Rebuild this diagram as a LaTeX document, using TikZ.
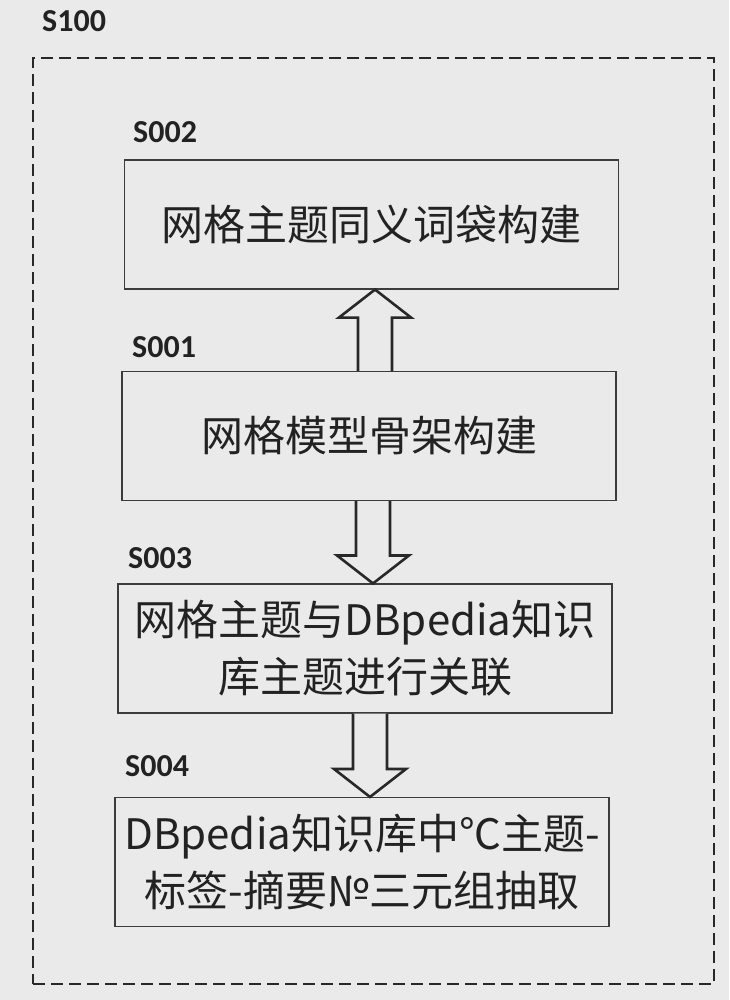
\documentclass[tikz,border=0pt]{standalone}
\usepackage{fontspec}
\newfontfamily\cjk{Noto Sans CJK SC}
\newfontfamily\lab{Carlito}
\usetikzlibrary{calc}
\definecolor{bgc}{RGB}{234,234,234}
\definecolor{txt}{RGB}{34,34,34}
\definecolor{boxc}{RGB}{60,60,60}
\definecolor{arrc}{RGB}{40,40,40}
\newcommand\uparr[3]{%
  \draw[barrow] let \p1=(#1.north), \p2=(#2.south), \p3=(#3,0) in
    (\x3-17pt,\y1) -- (\x3-17pt,\y2-28pt) -- (\x3-36pt,\y2-28pt) -- (\x3,\y2)
    -- (\x3+36pt,\y2-28pt) -- (\x3+17pt,\y2-28pt) -- (\x3+17pt,\y1);}
\newcommand\downarr[3]{%
  \draw[barrow] let \p1=(#1.south), \p2=(#2.north), \p3=(#3,0) in
    (\x3-17pt,\y1) -- (\x3-17pt,\y2+28pt) -- (\x3-36pt,\y2+28pt) -- (\x3,\y2)
    -- (\x3+36pt,\y2+28pt) -- (\x3+17pt,\y2+28pt) -- (\x3+17pt,\y1);}
\begin{document}
\begin{tikzpicture}[x=1pt,y=-1pt,
  stepbox/.style={draw=boxc, line width=1.1pt, minimum width=494pt, minimum height=129pt,
    inner sep=0pt, font=\cjk\fontsize{42}{57}\selectfont, align=center, text=txt},
  steplabel/.style={font=\lab\bfseries\fontsize{32}{36}\selectfont, anchor=base west,
    inner sep=0pt, text=txt},
  framebox/.style={draw=arrc, line width=1.8pt, dash pattern=on 12pt off 6pt,
    minimum width=681pt, minimum height=926pt, inner sep=0pt},
  barrow/.style={draw=arrc, fill=bgc, line width=2.6pt, line join=miter}]
\fill[bgc] (0,0) rectangle (729,1000);
\useasboundingbox (0,0) rectangle (729,1000);
\node[framebox] (s100) at (373.5,521) {};
\node[steplabel] (l100) at (42,32) {S100};
\node[steplabel] (l002) at (133,143) {S002};
\node[steplabel] (l001) at (132,357) {S001};
\node[steplabel] (l003) at (128,568) {S003};
\node[steplabel] (l004) at (125,776) {S004};
\node[stepbox] (s002) at (371.5,224.5) {网格主题同义词袋构建};
\node[stepbox] (s001) at (369,436) {网格模型骨架构建};
\node[stepbox] (s003) at (365,648.5) {网格主题与DBpedia知识\\库主题进行关联};
\node[stepbox] (s004) at (362,862) {DBpedia知识库中℃主题-\\标签-摘要№三元组抽取};
\uparr{s001}{s002}{375}
\downarr{s001}{s003}{373}
\downarr{s003}{s004}{370}
\end{tikzpicture}
\end{document}
